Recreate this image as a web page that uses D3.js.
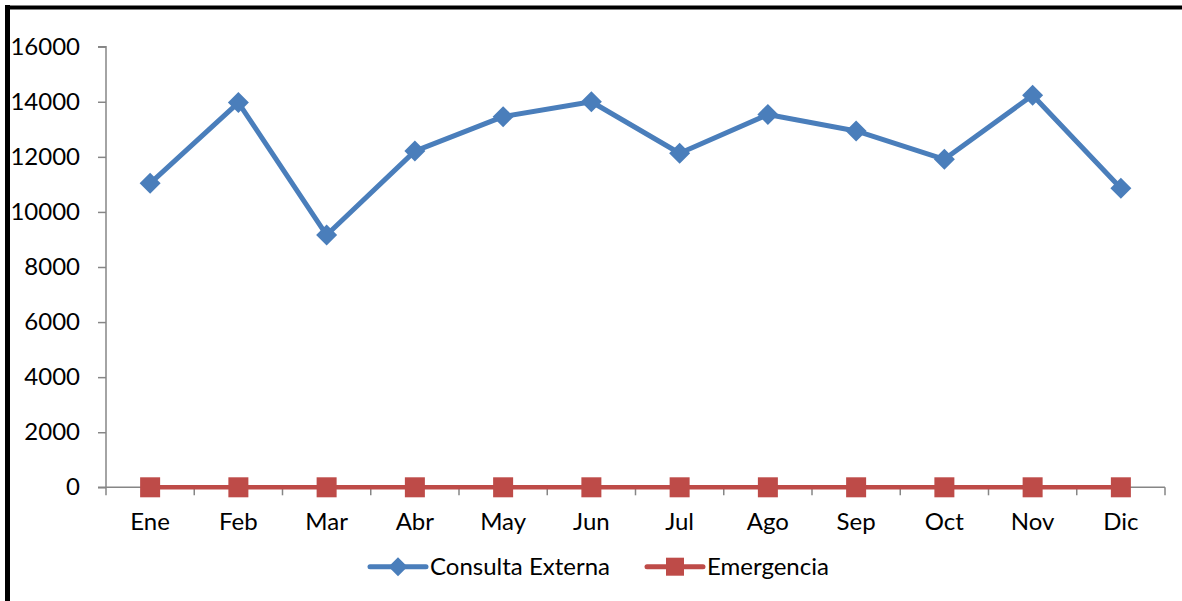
<!DOCTYPE html>
<html><head><meta charset="utf-8">
<script src="https://cdn.jsdelivr.net/npm/d3@7"></script>
<style>
html,body{margin:0;padding:0;background:#fff;}
svg{display:block;}
text{font-family:Lato,"Open Sans",sans-serif;fill:#000;}
</style></head>
<body>
<svg id="c" width="1182" height="601"></svg>
<script>
const months = ["Ene","Feb","Mar","Abr","May","Jun","Jul","Ago","Sep","Oct","Nov","Dic"];
const consultaExterna = [11040,13970,9160,12210,13460,14000,12130,13540,12940,11910,14240,10860];
const emergencia = [0,0,0,0,0,0,0,0,0,0,0,0];
const yTicks = [0,2000,4000,6000,8000,10000,12000,14000,16000];
const seriesNames = ["Consulta Externa","Emergencia"];
const colors = {blue:"#4A7EBB", red:"#BE4B48", axis:"#868686"};

(function(){
const svg = d3.select("#c");
const mLeft = 106, mRight = 1165, mTop = 46.7, mBottom = 487.3;
const fs = 24;

const x = d3.scaleBand().domain(months).range([mLeft, mRight]).padding(0);
const y = d3.scaleLinear().domain([0,16000]).range([mBottom, mTop]);

// frame (left and top)
svg.append("line").attr("x1",7.5).attr("x2",7.5).attr("y1",5).attr("y2",601)
  .attr("stroke","#000").attr("stroke-width",5);
svg.append("line").attr("x1",5).attr("x2",1182).attr("y1",7.5).attr("y2",7.5)
  .attr("stroke","#000").attr("stroke-width",4);

// y axis
const yAxis = d3.axisLeft(y).tickValues(yTicks).tickSize(8).tickPadding(18).tickFormat(d3.format("d"));
const gy = svg.append("g").attr("transform",`translate(${mLeft},0)`).call(yAxis);
gy.select(".domain").attr("stroke",colors.axis).attr("stroke-width",1.5).attr("d",`M-8,${mTop}H0V${mBottom}H-8`);
gy.selectAll(".tick line").attr("stroke",colors.axis).attr("stroke-width",1.5);
gy.selectAll(".tick text").attr("font-size",fs).attr("font-family","Lato").attr("fill","#000");

// x axis
const bounds = months.map(m => x(m)).concat([mRight]);
const gx = svg.append("g");
gx.append("line").attr("x1",mLeft).attr("x2",mRight).attr("y1",mBottom).attr("y2",mBottom)
  .attr("stroke",colors.axis).attr("stroke-width",1.5);
gx.selectAll("line.t").data(bounds).enter().append("line").attr("class","t")
  .attr("x1",d=>d).attr("x2",d=>d).attr("y1",mBottom).attr("y2",mBottom+8)
  .attr("stroke",colors.axis).attr("stroke-width",1.5);
gx.selectAll("text").data(months).enter().append("text")
  .attr("x",d=>x(d)+x.bandwidth()/2).attr("y",530)
  .attr("text-anchor","middle").attr("font-size",fs).text(d=>d);

const cx = d => x(d)+x.bandwidth()/2;
const line = d3.line().x((d,i)=>cx(months[i])).y(d=>y(d));

// Emergencia
svg.append("path").datum(emergencia).attr("d",line).attr("fill","none")
  .attr("stroke",colors.red).attr("stroke-width",4.5);
svg.selectAll("rect.em").data(emergencia).enter().append("rect").attr("class","em")
  .attr("x",(d,i)=>cx(months[i])-10).attr("y",d=>y(d)-10).attr("width",20).attr("height",20)
  .attr("fill",colors.red);

// Consulta Externa
svg.append("path").datum(consultaExterna).attr("d",line).attr("fill","none")
  .attr("stroke",colors.blue).attr("stroke-width",5).attr("stroke-linejoin","round");
svg.selectAll("path.ce").data(consultaExterna).enter().append("path").attr("class","ce")
  .attr("d","M0,-10.5L10.5,0L0,10.5L-10.5,0Z")
  .attr("transform",(d,i)=>`translate(${cx(months[i])},${y(d)})`)
  .attr("fill",colors.blue);

// legend
const leg = svg.append("g");
const ly = 566.7;
const items = [
  {name:seriesNames[0], x1:370, x2:426, tx:430, color:colors.blue, shape:"diamond"},
  {name:seriesNames[1], x1:647, x2:703, tx:707, color:colors.red, shape:"square"}
];
items.forEach(it=>{
  leg.append("line").attr("x1",it.x1).attr("x2",it.x2).attr("y1",ly).attr("y2",ly)
    .attr("stroke",it.color).attr("stroke-width",5).attr("stroke-linecap","round");
  const mx=(it.x1+it.x2)/2;
  if(it.shape==="diamond"){
    leg.append("path").attr("d","M0,-9.5L9.5,0L0,9.5L-9.5,0Z").attr("transform",`translate(${mx},${ly})`).attr("fill",it.color);
  } else {
    leg.append("rect").attr("x",mx-9).attr("y",ly-9).attr("width",18).attr("height",18).attr("fill",it.color);
  }
  leg.append("text").attr("x",it.tx).attr("y",ly+8.5).attr("font-size",fs).text(it.name);
});
})();
</script>
</body></html>
